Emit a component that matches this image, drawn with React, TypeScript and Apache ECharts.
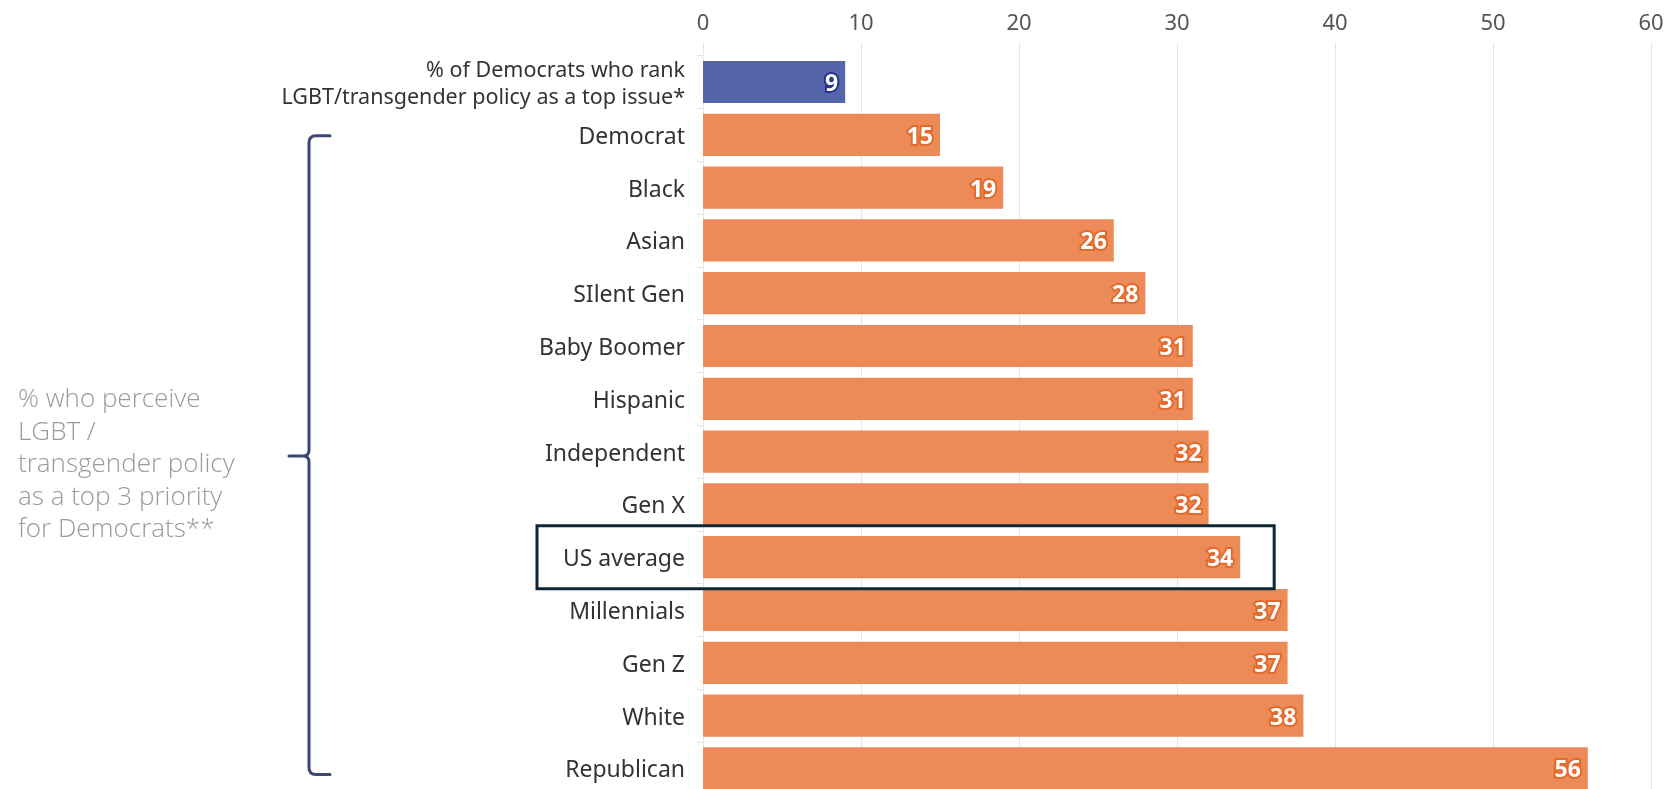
import React, { useEffect, useRef } from "react";
import * as echarts from "echarts";

const categories = [
  "% of Democrats who rank\nLGBT/transgender policy as a top issue*",
  "Democrat",
  "Black",
  "Asian",
  "SIlent Gen",
  "Baby Boomer",
  "Hispanic",
  "Independent",
  "Gen X",
  "US average",
  "Millennials",
  "Gen Z",
  "White",
  "Republican",
];
const values = [9, 15, 19, 26, 28, 31, 31, 32, 32, 34, 37, 37, 38, 56];
const xTicks = [0, 10, 20, 30, 40, 50, 60];
const sideNote = "% who perceive\nLGBT /\ntransgender policy\nas a top 3 priority\nfor Democrats**";
const highlightCategory = "US average";
const highlightValueEnd = 36.15;

const FONT = "'Noto Sans', sans-serif";
const BLUE = "#5565A9";
const BLUE_DARK = "#26328A";
const ORANGE = "#EC8B58";
const ORANGE_DARK = "#E26A2C";

export default function App() {
  const ref = useRef<HTMLDivElement>(null);
  useEffect(() => {
    if (!ref.current) return;
    const chart = echarts.init(ref.current, null, { renderer: "svg" });
    const gridLeft = 703;
    const gridRight = 17;
    chart.setOption({
      animation: false,
      grid: [
        { left: gridLeft, right: gridRight, top: 55.6, height: 739.2 },
        { left: gridLeft, right: gridRight, top: 43, height: 760 },
      ],
      xAxis: [
        {
          type: "value",
          gridIndex: 0,
          min: xTicks[0],
          max: xTicks[xTicks.length - 1],
          interval: 10,
          axisLabel: { show: false },
          splitLine: { show: false },
          axisLine: { show: false },
          axisTick: { show: false },
        },
        {
          type: "value",
          gridIndex: 1,
          position: "top",
          min: xTicks[0],
          max: xTicks[xTicks.length - 1],
          interval: 10,
          axisLabel: {
            show: true,
            color: "#555",
            fontFamily: FONT,
            fontSize: 22,
            margin: 11,
          },
          splitLine: { show: true, lineStyle: { color: "#E6E6E6", width: 1 } },
          axisLine: { show: false },
          axisTick: { show: false },
        },
      ],
      yAxis: [
        {
          type: "category",
          gridIndex: 0,
          inverse: true,
          data: categories,
          axisLine: { show: false },
          axisTick: { show: true, length: 6, lineStyle: { color: "#E2E2E2" } },
          axisLabel: {
            color: "#333",
            fontFamily: FONT,
            fontSize: 23,
            margin: 18,
            align: "right",
            formatter: (v: string) => (v.indexOf("\n") >= 0 ? `{m|${v}}` : v),
            rich: {
              m: {
                color: "#333",
                fontFamily: FONT,
                fontSize: 21.5,
                lineHeight: 27,
                align: "right",
              },
            },
          },
        },
        {
          type: "value",
          gridIndex: 1,
          show: false,
        },
      ],
      series: [
        {
          type: "bar",
          xAxisIndex: 0,
          yAxisIndex: 0,
          barCategoryGap: "20%",
          data: values.map((v, i) => ({
            value: v,
            itemStyle: { color: i === 0 ? BLUE : ORANGE },
            label: {
              textBorderColor: i === 0 ? BLUE_DARK : ORANGE_DARK,
            },
          })),
          label: {
            show: true,
            position: "insideRight",
            offset: [-2, 0],
            color: "#fff",
            fontFamily: FONT,
            fontWeight: "bold",
            fontSize: 23,
            textBorderWidth: 4,
          },
        },
      ],
    });

    const yOf = (c: string) => chart.convertToPixel({ yAxisIndex: 0 }, c) as number;
    const xOf = (v: number) => chart.convertToPixel({ xAxisIndex: 0 }, v) as number;

    const yT = yOf(categories[1]) + 1;
    const yB = yOf(categories[categories.length - 1]) + 6;
    const yM = (yT + yB) / 2 + 1;
    const bx = 309;
    const d =
      `M330,${yT} L316,${yT} Q${bx},${yT} ${bx},${yT + 7} ` +
      `L${bx},${yM - 6} Q${bx},${yM} ${bx - 6},${yM} L289,${yM} ` +
      `M${bx - 6},${yM} Q${bx},${yM} ${bx},${yM + 6} ` +
      `L${bx},${yB - 7} Q${bx},${yB} 316,${yB} L330,${yB}`;
    echarts.graphic.registerShape("bracket", echarts.graphic.extendPath(d, {}) as any);

    const yH = yOf(highlightCategory);
    const xHRight = xOf(highlightValueEnd);
    const boxLeft = 537;

    chart.setOption({
      graphic: [
        {
          type: "bracket",
          x: 0,
          y: 0,
          style: { stroke: "#3B4870", lineWidth: 3, fill: null, lineCap: "round", lineJoin: "round" },
        },
        {
          type: "rect",
          shape: { x: boxLeft, y: yH - 31.5, width: xHRight - boxLeft, height: 63 },
          style: { stroke: "#0E2736", lineWidth: 3, fill: null },
          z: 10,
        },
        {
          type: "text",
          x: 18,
          y: 381,
          style: {
            text: sideNote,
            fontFamily: "'Open Sans', sans-serif",
            fontWeight: 300,
            fontSize: 26,
            lineHeight: 32.5,
            fill: "#9A9A9A",
            verticalAlign: "top",
            align: "left",
          },
        },
      ],
    });

    return () => chart.dispose();
  }, []);
  return (
    <div
      ref={ref}
      style={{ position: "fixed", left: 0, top: 0, width: 1668, height: 800 }}
    />
  );
}
